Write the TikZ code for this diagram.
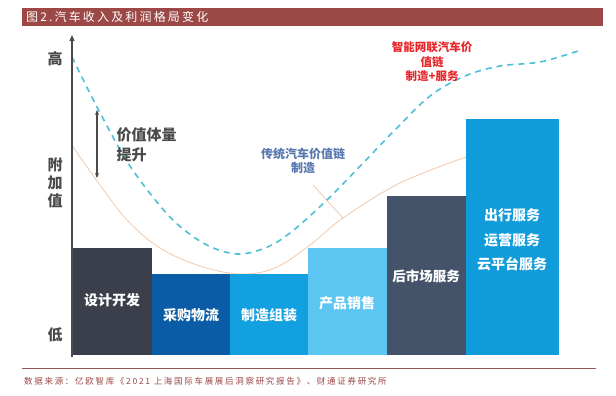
\documentclass[tikz,border=0pt]{standalone}
\usepackage{fontspec}
\setmainfont{Noto Sans CJK SC}
\usetikzlibrary{arrows.meta}
\definecolor{titlebar}{HTML}{9B4846}
\definecolor{boxA}{HTML}{3A3F4B}
\definecolor{boxB}{HTML}{0B5CA6}
\definecolor{boxC}{HTML}{13A0E0}
\definecolor{boxD}{HTML}{5CC5F2}
\definecolor{boxE}{HTML}{44536A}
\definecolor{boxF}{HTML}{109CDB}
\definecolor{dashcol}{HTML}{4DBFD8}
\definecolor{orangecol}{HTML}{F2C9AA}
\definecolor{labelblue}{HTML}{5878B0}
\definecolor{redtxt}{HTML}{E8262A}
\definecolor{axiscol}{HTML}{4A4A4A}
\definecolor{srccol}{HTML}{9B4846}
\tikzset{
  bar/.style={fill=#1, draw=none},
  boxtxt/.style={text=white, font=\fontsize{14}{17}\selectfont\bfseries, align=center},
  axislbl/.style={text=axiscol, font=\fontsize{15}{18}\selectfont\bfseries},
}
\begin{document}
\begin{tikzpicture}[x=1pt,y=-1pt]
\useasboundingbox (0,0) rectangle (616,396);
\fill[white] (0,0) rectangle (616,396);
% title bar
\fill[titlebar] (22,8) rectangle (603,26);
\node[anchor=west, text=white, font=\fontsize{12}{14}\selectfont\addfontfeature{LetterSpace=18}, inner sep=0] (title) at (26,17) {图2.汽车收入及利润格局变化};

% orange curve
\draw[orangecol, line width=0.8pt] plot[smooth, tension=0.6] coordinates {(73,147) (100,185) (127,220) (160,248) (200,266) (240,274) (275,268) (310,245) (343,218) (400,183) (466,157)};
% leader line
\coordinate (leadA) at (313,185);
\coordinate (leadB) at (343,218);
\draw[orangecol, line width=0.8pt] (leadA) -- (leadB);

% boxes
\path[bar=boxA] (73,248) rectangle (152,355);
\path[bar=boxB] (152,274) rectangle (230,355);
\path[bar=boxC] (230,274) rectangle (308,355);
\path[bar=boxD] (308,248) rectangle (387,355);
\path[bar=boxE] (387,196) rectangle (466,355);
\path[bar=boxF] (466,119) rectangle (559,355);

\node[boxtxt] (t1) at (112,300) {设计开发};
\node[boxtxt] (t2) at (191,315) {采购物流};
\node[boxtxt] (t3) at (269,315) {制造组装};
\node[boxtxt] (t4) at (347,303) {产品销售};
\node[boxtxt, font=\fontsize{13.5}{17}\selectfont\bfseries] (t5) at (426,276) {后市场服务};
\node[boxtxt, font=\fontsize{14}{24.5}\selectfont\bfseries] (t6) at (512,240) {出行服务\\运营服务\\云平台服务};

% dashed curve
\draw[dashcol, line width=1.6pt, dash pattern=on 6pt off 5pt] plot[smooth, tension=0.55] coordinates {(72,57) (97,107) (130,166) (170,217) (205,244) (237,254) (265,248) (290,233) (330,197) (393,132) (430,96) (465,76) (500,66) (540,62) (578,51)};

% axis
\coordinate (axBot) at (72,357);
\coordinate (axTop) at (72,35);
\draw[axiscol, line width=1.3pt, -{Triangle[length=6pt,width=5pt]}] (axBot) -- (axTop);
\node[axislbl] (hi) at (55,59) {高};
\node[axislbl, align=center] (mid) at (55,183) {附\\加\\值};
\node[axislbl] (lo) at (55,335) {低};

% value arrow
\coordinate (vaTop) at (97,110);
\coordinate (vaBot) at (97,178);
\draw[axiscol, line width=1.1pt, {Stealth[length=5pt,width=4pt]}-{Stealth[length=5pt,width=4pt]}] (vaTop) -- (vaBot);
\node[axislbl, align=left, anchor=west, font=\fontsize{15}{20}\selectfont\bfseries] (vl) at (113,145) {价值体量\\提升};

% labels
\node[text=labelblue, font=\fontsize{12}{13.5}\selectfont\bfseries, align=center] (trad) at (303,161) {传统汽车价值链\\制造};
\node[text=redtxt, font=\fontsize{11.5}{14.5}\selectfont\bfseries, align=center] (smart) at (432,62) {智能网联汽车价\\值链\\制造+服务};

% footer
\coordinate (fl) at (22,368);
\coordinate (fr) at (596,368);
\draw[srccol!70!gray, line width=0.7pt] (fl) -- (fr);
\node[anchor=west, text=srccol, font=\fontsize{8.5}{10}\selectfont\addfontfeature{LetterSpace=20}, inner sep=0] (src) at (24,381) {数据来源：亿欧智库《2021 上海国际车展展后洞察研究报告》、财通证券研究所};
\end{tikzpicture}
\end{document}
